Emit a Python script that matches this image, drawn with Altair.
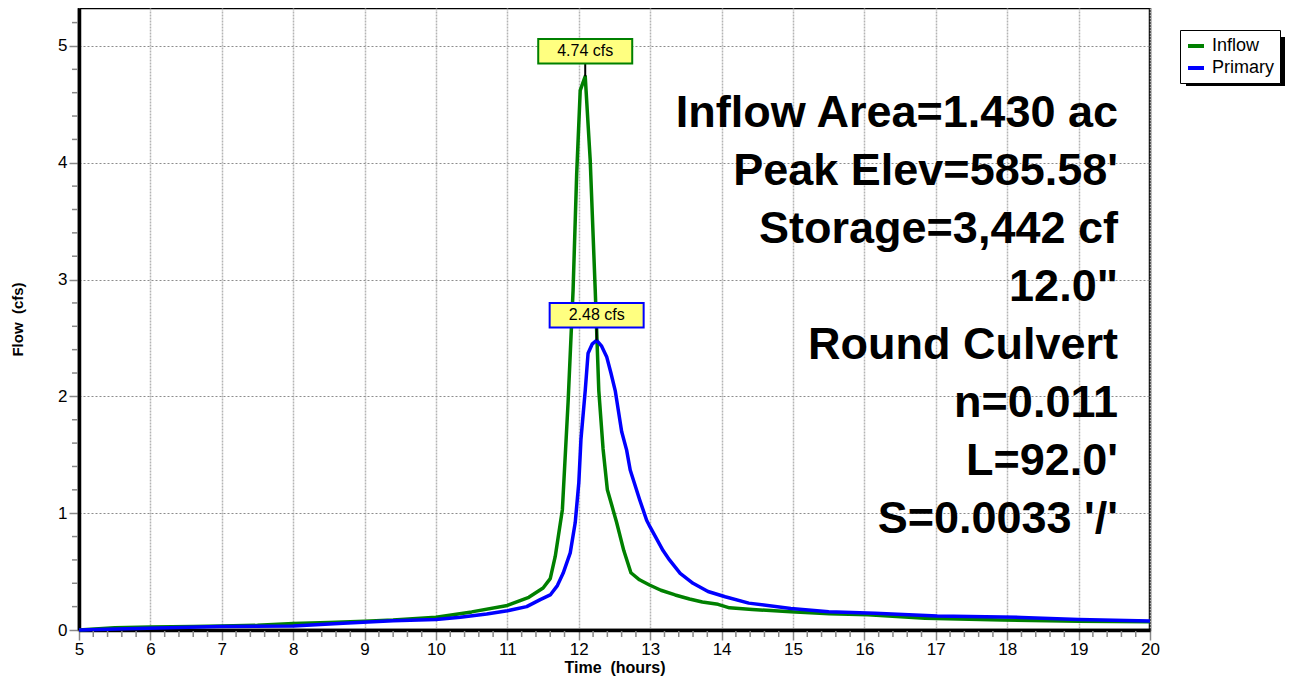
import altair as alt
import pandas as pd

# ---- data ----
t_inflow = [5.0, 5.5, 6.0, 6.6, 7.0, 7.5, 8.0, 8.5, 9.0, 9.4, 10.0, 10.5, 11.0, 11.3, 11.5,
            11.6, 11.67, 11.77, 11.85, 11.92, 11.97, 12.02, 12.09, 12.16, 12.23, 12.28, 12.34,
            12.40, 12.47, 12.53, 12.63, 12.73, 12.85, 12.99, 13.15, 13.35, 13.55, 13.73, 13.95,
            14.11, 14.43, 14.97, 15.51, 16.05, 16.85, 17.93, 19.0, 20.0]
q_inflow = [0.0, 0.02, 0.025, 0.03, 0.035, 0.04, 0.055, 0.065, 0.075, 0.085, 0.11, 0.155, 0.21, 0.28, 0.36,
            0.44, 0.63, 1.03, 1.95, 2.91, 3.9, 4.62, 4.74, 4.02, 2.91, 2.05, 1.55,
            1.2, 1.05, 0.92, 0.68, 0.49, 0.43, 0.385, 0.34, 0.30, 0.265, 0.24, 0.22,
            0.19, 0.175, 0.157, 0.14, 0.13, 0.10, 0.086, 0.075, 0.07]

t_primary = [5.0, 5.67, 6.97, 8.0, 8.7, 9.4, 10.0, 10.34, 10.71, 11.0, 11.27, 11.46, 11.6, 11.7,
             11.78, 11.88, 11.95, 12.0, 12.03, 12.09, 12.13, 12.19, 12.25, 12.32, 12.39, 12.45,
             12.51, 12.6, 12.67, 12.72, 12.85, 12.95, 13.0, 13.18, 13.27, 13.42, 13.6, 13.81,
             14.05, 14.38, 14.97, 15.5, 16.15, 17.02, 18.2, 19.0, 20.0]
q_primary = [0.0, 0.01, 0.03, 0.035, 0.057, 0.08, 0.09, 0.11, 0.137, 0.165, 0.2, 0.26, 0.3, 0.38,
             0.485, 0.66, 0.92, 1.26, 1.63, 2.05, 2.37, 2.45, 2.48, 2.43, 2.34, 2.2,
             2.05, 1.7, 1.54, 1.37, 1.12, 0.94, 0.88, 0.68, 0.6, 0.485, 0.4, 0.33,
             0.285, 0.23, 0.185, 0.157, 0.143, 0.12, 0.108, 0.09, 0.077]

series_names = ["Inflow", "Primary"]
series_colors = ["#008000", "#0000ff"]

peak_series = ["Inflow", "Primary"]
peak_t = [12.09, 12.25]
peak_q = [4.74, 2.48]
peak_labels = ["4.74 cfs", "2.48 cfs"]

x_major = list(range(5, 21))
x_minor = [round(5 + i * 0.2, 1) for i in range(76) if i % 5 != 0]
y_major = [0, 1, 2, 3, 4, 5]
y_minor = [round(i * 0.2, 1) for i in range(27) if i % 5 != 0]

info_lines = ["Inflow Area=1.430 ac", "Peak Elev=585.58'", "Storage=3,442 cf", "12.0\"",
              "Round Culvert", "n=0.011", "L=92.0'", "S=0.0033 '/'"]

# ---- tables ----
df = pd.concat([
    pd.DataFrame({"t": t_inflow, "q": q_inflow, "series": "Inflow"}),
    pd.DataFrame({"t": t_primary, "q": q_primary, "series": "Primary"}),
], ignore_index=True)
peaks = pd.DataFrame({"series": peak_series, "t": peak_t, "q": peak_q, "label": peak_labels})
xminor_df = pd.DataFrame({"t": x_minor})
yminor_df = pd.DataFrame({"q": y_minor})

FONT = "Liberation Sans"
W, H = 1071, 622
xscale = alt.Scale(domain=[5, 20], nice=False, zero=False)
yscale = alt.Scale(domain=[0, 5.325], nice=False)
cscale = alt.Scale(domain=series_names, range=series_colors)

x_main = alt.X("t:Q", scale=xscale, axis=alt.Axis(
    values=x_major, title="Time \u00a0(hours)", format="d", orient="bottom",
    grid=True, gridColor="#b4b4b4", gridDash=[2, 1], gridWidth=1.5,
    tickSize=10, tickColor="#888888", tickWidth=1.5,
    domainColor="black", domainWidth=3.5,
    labelFontSize=17, labelColor="black", labelPadding=1, labelFlush=False,
    titleFontSize=16, titleFontWeight="bold", titleColor="black", titlePadding=2))
y_main = alt.Y("q:Q", scale=yscale, axis=alt.Axis(
    values=y_major, title="Flow \u00a0(cfs)", orient="left", format="d",
    grid=True, gridColor="#8c8c8c", gridDash=[2, 2], gridWidth=1,
    tickSize=10, tickColor="#888888", tickWidth=1.5,
    domainColor="black", domainWidth=3.5,
    labelFontSize=17, labelColor="black", labelPadding=2,
    titleFontSize=15, titleFontWeight="bold", titleColor="black", titlePadding=32))

lines = alt.Chart(df).mark_line(strokeWidth=3.5, strokeJoin="round").encode(
    x=x_main, y=y_main,
    color=alt.Color("series:N", scale=cscale, legend=alt.Legend(
        title=None, orient="none", legendX=1101, legendY=22,
        symbolType="stroke", symbolStrokeWidth=4, symbolSize=256,
        labelFontSize=18, labelColor="black", labelOffset=6,
        padding=6, rowPadding=3,
        strokeColor="black", fillColor="white")),
    order=alt.Order("t:Q"))

xminor = alt.Chart(xminor_df).mark_rule(color="#888888", strokeWidth=1.5).encode(
    x=alt.X("t:Q", scale=xscale), y=alt.value(H + 1), y2=alt.value(H + 7))
yminor = alt.Chart(yminor_df).mark_rule(color="#888888", strokeWidth=1.5).encode(
    y=alt.Y("q:Q", scale=yscale), x=alt.value(-7), x2=alt.value(-1))

leader = alt.Chart(peaks).transform_calculate(q2="datum.q + 0.107").mark_rule(
    color="black", strokeWidth=2).encode(
    x=alt.X("t:Q", scale=xscale), y=alt.Y("q:Q", scale=yscale), y2="q2:Q")

boxes = alt.Chart(peaks).mark_point(
    shape="M-1,-0.26H1V0.26H-1Z", size=8836, filled=True, fill="#ffff80",
    strokeWidth=2, opacity=1, yOffset=-25).encode(
    x=alt.X("t:Q", scale=xscale), y=alt.Y("q:Q", scale=yscale),
    stroke=alt.Stroke("series:N", scale=cscale, legend=None))

box_text = alt.Chart(peaks).mark_text(
    font=FONT, fontSize=16, color="black", baseline="middle", align="center", yOffset=-25).encode(
    x=alt.X("t:Q", scale=xscale), y=alt.Y("q:Q", scale=yscale), text="label:N")

shadow = alt.Chart(peaks).mark_rect(color="black").encode(
    x=alt.value(1107), x2=alt.value(1206), y=alt.value(29), y2=alt.value(78))

info = alt.Chart(pd.DataFrame({"txt": [info_lines]})).mark_text(
    font=FONT, fontSize=45, fontWeight="bold", color="black", align="right",
    baseline="alphabetic", lineHeight=58).encode(
    x=alt.value(1039), y=alt.value(119), text="txt")

chart = alt.layer(lines, xminor, yminor, info, leader, boxes, box_text, shadow).properties(
    width=W, height=H,
    autosize=alt.AutoSizeParams(type="none"),
    padding={"left": 71, "top": 0, "right": 136, "bottom": 46},
).configure(font=FONT).configure_view(stroke="black", strokeWidth=2.5, fill="white")

chart.save("out.html", embed_options={"renderer": "svg", "actions": False})
